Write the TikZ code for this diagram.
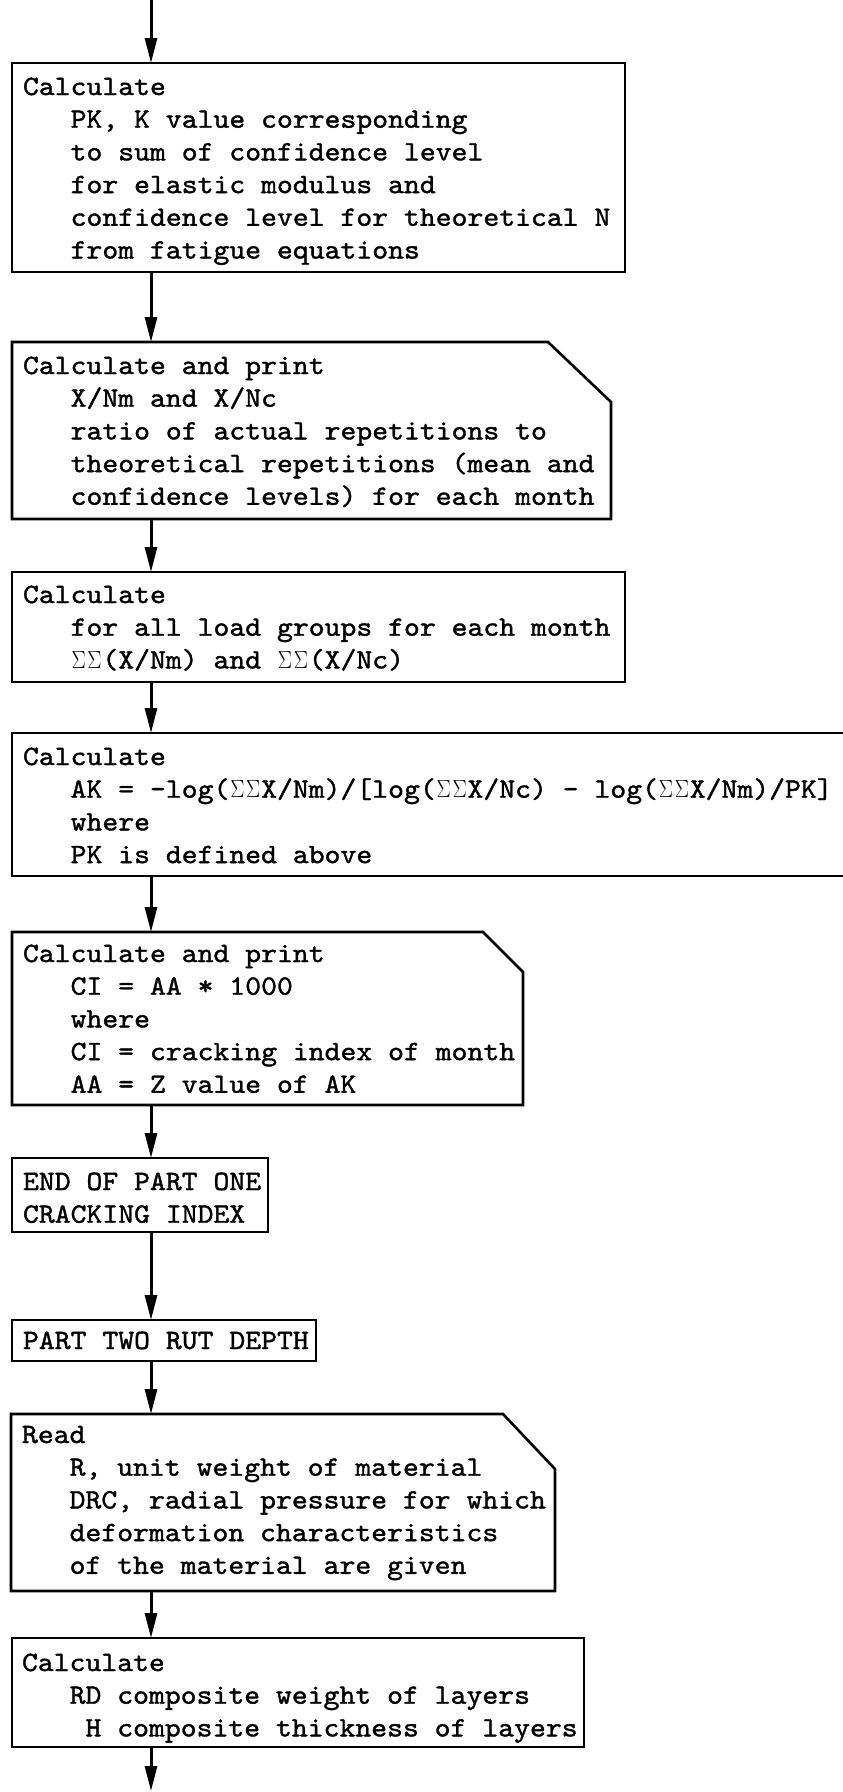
\documentclass[tikz,border=0pt]{standalone}
\usepackage{fontspec}
\usepackage{graphicx}
\setmonofont{lmmono10-regular.otf}[FakeStretch=1.08,FakeBold=1.3]
\usetikzlibrary{arrows.meta,calc}

% three-character indent and a one-cell summation sign
\newcommand\ind{\phantom{xxx}}
\newcommand\sg{\makebox[\fontcharwd\font`\x][c]{\scalebox{0.85}[1]{$\Sigma$}}}
\newcommand\rows[1]{\begin{tabular}[t]{@{}l@{}}#1\end{tabular}}

\tikzset{
  frame/.style={draw, line width=2.6pt, inner sep=0pt, outer sep=0pt, anchor=north west},
  cardfrm/.style={inner sep=0pt, outer sep=0pt, anchor=north west},
  edge/.style={line width=2.6pt, line join=miter},
  txt/.style={font=\ttfamily\fontsize{28}{32.7}\selectfont, inner sep=0pt, outer sep=0pt, anchor=base west},
  flow/.style={line width=3pt, -{Triangle[length=25pt,width=12pt]}}
}

\begin{document}
\begin{tikzpicture}[x=1pt,y=-1pt]
\useasboundingbox (0,0) rectangle (843,1792);
\clip (0,0) rectangle (843,1792);
\fill[white] (0,0) rectangle (843,1792);

% process boxes
\node[frame, minimum width=613pt, minimum height=209pt] (b1) at (12,63) {};
\node[cardfrm, minimum width=599pt, minimum height=177pt] (b2) at (12,342) {};
\node[frame, minimum width=613pt, minimum height=110pt] (b3) at (12,572) {};
\node[frame, minimum width=900pt, minimum height=143pt] (b4) at (12,733) {};
\node[cardfrm, minimum width=511pt, minimum height=173pt] (b5) at (12,932) {};
\node[frame, minimum width=256pt, minimum height=74pt] (b6) at (12,1158) {};
\node[frame, minimum width=304pt, minimum height=41pt] (b7) at (12,1320) {};
\node[cardfrm, minimum width=544pt, minimum height=177pt] (b8) at (11,1414) {};
\node[frame, minimum width=572pt, minimum height=109pt] (b9) at (12,1638) {};

% card outlines with a clipped upper right corner
\draw[edge] (b2.north west) -- ($(b2.north east)+(-63pt,0pt)$) -- ($(b2.north east)+(0pt,-60pt)$)
  -- (b2.south east) -- (b2.south west) -- cycle;
\draw[edge] (b5.north west) -- ($(b5.north east)+(-40pt,0pt)$) -- ($(b5.north east)+(0pt,-40pt)$)
  -- (b5.south east) -- (b5.south west) -- cycle;
\draw[edge] (b8.north west) -- ($(b8.north east)+(-52pt,0pt)$) -- ($(b8.north east)+(0pt,-55pt)$)
  -- (b8.south east) -- (b8.south west) -- cycle;

% box texts
\node[txt] (t1) at (23,95) {\rows{Calculate\\
  \ind PK, K value corresponding\\
  \ind to sum of confidence level\\
  \ind for elastic modulus and\\
  \ind confidence level for theoretical N\\
  \ind from fatigue equations}};
\node[txt] (t2) at (23,374) {\rows{Calculate and print\\
  \ind X/Nm and X/Nc\\
  \ind ratio of actual repetitions to\\
  \ind theoretical repetitions (mean and\\
  \ind confidence levels) for each month}};
\node[txt] (t3) at (23,603) {\rows{Calculate\\
  \ind for all load groups for each month\\
  \ind \sg\sg(X/Nm) and \sg\sg(X/Nc)}};
\node[txt] (t4) at (23,765) {\rows{Calculate\\
  \ind AK = -log(\sg\sg X/Nm)/[log(\sg\sg X/Nc) - log(\sg\sg X/Nm)/PK]\\
  \ind where\\
  \ind PK is defined above}};
\node[txt] (t5) at (23,962) {\rows{Calculate and print\\
  \ind CI = AA * 1000\\
  \ind where\\
  \ind CI = cracking index of month\\
  \ind AA = Z value of AK}};
\node[txt] (t6) at (23,1190) {\rows{END OF PART ONE\\ CRACKING INDEX}};
\node[txt] (t7) at (23,1349) {PART TWO RUT DEPTH};
\node[txt] (t8) at (22,1443) {\rows{Read\\
  \ind R, unit weight of material\\
  \ind DRC, radial pressure for which\\
  \ind deformation characteristics\\
  \ind of the material are given}};
\node[txt] (t9) at (22,1671) {\rows{Calculate\\
  \ind RD composite weight of layers\\
  \ind\phantom{x}H composite thickness of layers}};

% flow line
\coordinate (ax) at (151,0);
\coordinate (bot) at (151,1791);
\draw[flow] (ax) -- (b1.north -| ax);
\draw[flow] (b1.south -| ax) -- (b2.north -| ax);
\draw[flow] (b2.south -| ax) -- (b3.north -| ax);
\draw[flow] (b3.south -| ax) -- (b4.north -| ax);
\draw[flow] (b4.south -| ax) -- (b5.north -| ax);
\draw[flow] (b5.south -| ax) -- (b6.north -| ax);
\draw[flow] (b6.south -| ax) -- (b7.north -| ax);
\draw[flow] (b7.south -| ax) -- (b8.north -| ax);
\draw[flow] (b8.south -| ax) -- (b9.north -| ax);
\draw[flow] (b9.south -| ax) -- (bot);
\end{tikzpicture}
\end{document}
